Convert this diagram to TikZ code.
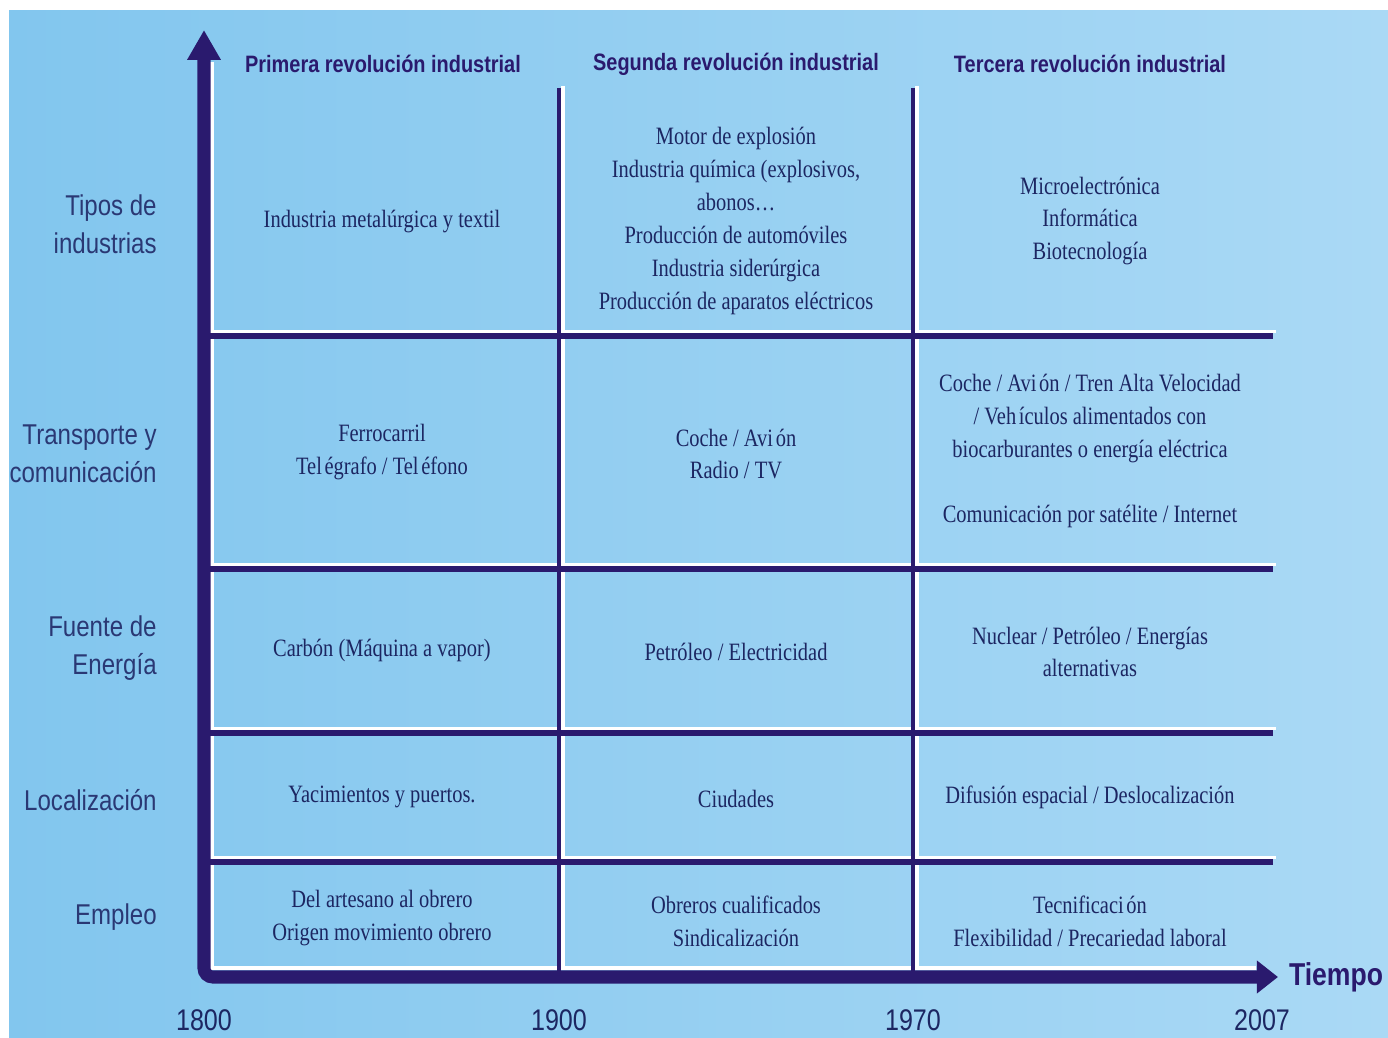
\documentclass[tikz,border=0pt]{standalone}
\usepackage{fontspec}
\usetikzlibrary{arrows.meta}
\newfontfamily\cellfont{Liberation Serif}[FakeStretch=0.82]
\newfontfamily\labfont{Liberation Sans}[FakeStretch=0.84]
\definecolor{axiscol}{HTML}{2A1A6E}
\definecolor{bgleft}{HTML}{82C6EE}
\definecolor{bgright}{HTML}{AAD9F5}
\definecolor{txtcol}{HTML}{1C2662}
\definecolor{labcol}{HTML}{2A3874}
\newcommand\acgap{\kern1.5pt}
\begin{document}
\begin{tikzpicture}
[x=0.2mm,y=-0.2mm,
axis/.style={draw=axiscol,line width=7.4pt,rounded corners=5pt},
grid/.style={draw=axiscol,line width=3.4pt},
divider/.style={draw=axiscol,line width=2.8pt},
glow/.style={draw=white,line width=2pt},
head/.style={font=\labfont\bfseries\fontsize{13.5}{16}\selectfont,text=axiscol},
rowlab/.style={font=\labfont\fontsize{16.3}{21.5}\selectfont,text=labcol,align=right,anchor=east,inner sep=0pt},
cell/.style={font=\cellfont\fontsize{14.2}{18.7}\selectfont,text=txtcol,align=center},
year/.style={font=\labfont\fontsize{17}{20}\selectfont,text=txtcol}]
\fill[white] (0,0) rectangle (1388,1038);
\shade[left color=bgleft,right color=bgright] (9,11) rectangle (1388,1038);
\useasboundingbox (0,0) rectangle (1388,1038);
% white edges first
\foreach \y in {336,569,733,862}
  \draw[glow] (212,\y-4.5) -- (1276,\y-4.5);
\foreach \x in {559,913}
  \draw[glow] (\x+4,86) -- (\x+4,968);
\draw[glow] (212,62) -- (212,968) -- (1256,968);
% dark lines
\foreach \y in {336,569,733,862}
  \draw[grid] (204,\y) -- (1273,\y);
\foreach \x in {559,913}
  \draw[divider] (\x,88) -- (\x,977);
\draw[axis,{Triangle[width=18pt,length=17pt]}-{Triangle[width=18pt,length=12pt]}]
  (204,30) -- (204,977) -- (1278,977);
\node[head] (first) at (383,64) {Primera revolución industrial};
\node[head] (second) at (736,64) {Segunda revolución industrial};
\node[head] (third) at (1090,64) {Tercera revolución industrial};
\node[rowlab] (tipos) at (157,224) {Tipos de\\industrias};
\node[rowlab] (transporte) at (157,454) {Transporte y\\comunicación};
\node[rowlab] (fuente) at (157,648) {Fuente de\\Energía};
\node[rowlab] (local) at (157,800) {Localización};
\node[rowlab] (empleo) at (157,917) {Empleo};
\node[cell] (ind1) at (382,222) {Industria metalúrgica y textil};
\node[cell] (ind2) at (736,221) {Motor de explosión\\Industria química (explosivos,\\abonos…\\Producción de automóviles\\Industria siderúrgica\\Producción de aparatos eléctricos};
\node[cell] (ind3) at (1090,221) {Microelectrónica\\Informática\\Biotecnología};
\node[cell] (tra1) at (382,452) {Ferrocarril\\Tel\acgap égrafo / Tel\acgap éfono};
\node[cell] (tra2) at (736,454) {Coche / Avi\acgap ón\\Radio / TV};
\node[cell] (tra3) at (1090,451) {Coche / Avi\acgap ón / Tren Alta Velocidad\\/ Veh\acgap ículos alimentados con\\biocarburantes o energía eléctrica\\[18.7pt]Comunicación por satélite / Internet};
\node[cell] (ene1) at (382,650) {Carbón (Máquina a vapor)};
\node[cell] (ene2) at (736,652) {Petróleo / Electricidad};
\node[cell] (ene3) at (1090,652) {Nuclear / Petróleo / Energías\\alternativas};
\node[cell] (loc1) at (382,797) {Yacimientos y puertos.};
\node[cell] (loc2) at (736,799) {Ciudades};
\node[cell] (loc3) at (1090,797) {Difusión espacial / Deslocalización};
\node[cell] (emp1) at (382,918) {Del artesano al obrero\\Origen movimiento obrero};
\node[cell] (emp2) at (736,921) {Obreros cualificados\\Sindicalización};
\node[cell] (emp3) at (1090,921) {Tecnificaci\acgap ón\\Flexibilidad / Precariedad laboral};
\node[year] (y1800) at (204,1020) {1800};
\node[year] (y1900) at (559,1020) {1900};
\node[year] (y1970) at (913,1020) {1970};
\node[year] (y2007) at (1262,1020) {2007};
\node[year,font=\labfont\bfseries\fontsize{18}{20}\selectfont,text=axiscol] (tiempo) at (1336,977) {Tiempo};
\end{tikzpicture}
\end{document}
